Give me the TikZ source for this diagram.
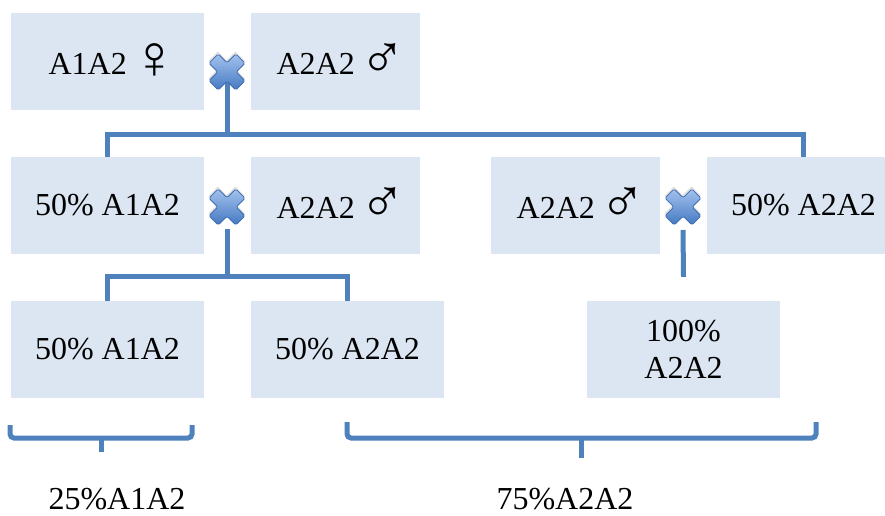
\documentclass[tikz,border=0pt]{standalone}
\usepackage{fontspec}
\setmainfont{Liberation Serif}
\usepackage{tikz}
\usetikzlibrary{positioning,calc}

\definecolor{boxfill}{HTML}{DCE6F2}
\definecolor{linkblue}{HTML}{4F81BD}
\definecolor{crosstop}{HTML}{A4C2EE}
\definecolor{crossbot}{HTML}{4479C2}
\definecolor{crossedge}{HTML}{3C6CB0}

% sex symbols, set larger than the text (kerned: wide side bearings)
\newcommand\fem{\kern-3pt\raisebox{-4pt}{\fontsize{62}{62}\selectfont ♀}\kern-12pt}
\newcommand\mal{\kern-3pt\raisebox{-4pt}{\fontsize{62}{62}\selectfont ♂}\kern-12pt}

\tikzset{
  crossmark/.pic={
    \fill[black!25,opacity=.5,rotate=45,shift={(1.5,-2)}]
      (-6.5,-19) -- (6.5,-19) -- (6.5,-6.5) -- (19,-6.5) -- (19,6.5) -- (6.5,6.5)
      -- (6.5,19) -- (-6.5,19) -- (-6.5,6.5) -- (-19,6.5) -- (-19,-6.5) -- (-6.5,-6.5) -- cycle;
    \path[draw=crossedge,line width=.8pt,top color=crosstop,bottom color=crossbot,
      rounded corners=1.5pt,rotate=45]
      (-6.5,-19) -- (6.5,-19) -- (6.5,-6.5) -- (19,-6.5) -- (19,6.5) -- (6.5,6.5)
      -- (6.5,19) -- (-6.5,19) -- (-6.5,6.5) -- (-19,6.5) -- (-19,-6.5) -- (-6.5,-6.5) -- cycle;
  }
}

\begin{document}
\begin{tikzpicture}[x=1pt,y=-1pt,
    genobox/.style={fill=boxfill,minimum height=97pt,inner sep=0pt,
      align=center,font=\fontsize{32}{37}\selectfont},
    wide/.style={minimum width=193pt},
    narrow/.style={minimum width=169pt},
    link/.style={draw=linkblue,line width=5pt},
    sumlabel/.style={font=\fontsize{32}{37}\selectfont}
  ]
  \clip (0,0) rectangle (885,516);

  % parents
  \node[genobox,wide] (p1) at (107.5,61.5) {A1A2 \fem};
  \node[genobox,narrow] (p2) at (335.5,61.5) {A2A2 \mal};

  % first offspring and their crosses
  \node[genobox,wide] (c1) at (107.5,205.5) {50\% A1A2};
  \node[genobox,narrow] (m1) at (335.5,205.5) {A2A2 \mal};
  \node[genobox,narrow] (m2) at (575.5,205.5) {A2A2 \mal};
  \node[genobox,wide] (c2) at (803.5,205.5) {50\% A2A2};

  % second offspring
  \node[genobox,wide] (g1) at (107.5,349.5) {50\% A1A2};
  \node[genobox,wide] (g2) at (347.5,349.5) {50\% A2A2};
  \node[genobox,wide] (g3) at (683.5,349.5) {100\%\\A2A2};

  \coordinate (x1) at (227,72);
  \coordinate (x2) at (227,207);
  \coordinate (x3) at (683,207);
  \coordinate (j1) at (227,134);
  \coordinate (j2) at (227,276);

  \draw[link] (x1) -- (j1);
  \draw[link] (c1.north) |- (j1) -| (c2.north);
  \draw[link] ([yshift=-22pt]x2) -- (j2);
  \draw[link] (g1.north) |- (j2) -| (g2.north);
  \draw[link] ([yshift=-23pt]x3) -- ([yshift=24pt]g3.north);

  \pic at (x1) {crossmark};
  \pic at (x2) {crossmark};
  \pic at (x3) {crossmark};

  % totals
  \coordinate (b1) at (101,438);
  \coordinate (b2) at (581,438);
  \draw[link,rounded corners=4pt] (10,425) |- (b1) -| (192,425);
  \draw[link] (b1) -- ++(0,14);
  \draw[link,rounded corners=4pt] (347,422) |- (b2) -| (816,422);
  \draw[link] (b2) -- ++(0,20);

  \node[sumlabel] (s1) at (117,499) {25\%A1A2};
  \node[sumlabel] (s2) at (565,499) {75\%A2A2};
\end{tikzpicture}
\end{document}
